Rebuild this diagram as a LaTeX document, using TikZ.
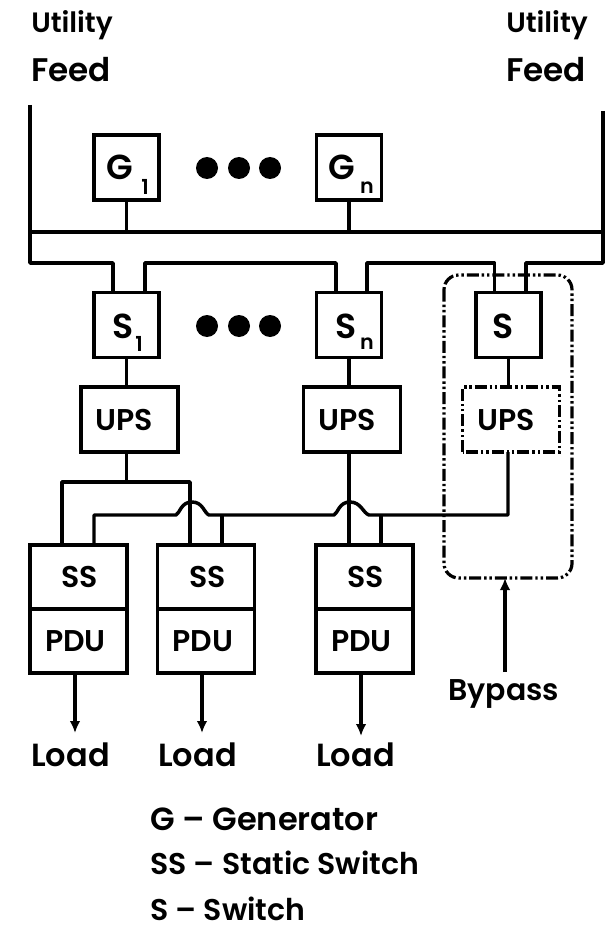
\documentclass[tikz,border=0pt]{standalone}
\usepackage{fontspec}
\setmainfont{Poppins}[UprightFont=* SemiBold,BoldFont=* Bold]
\usetikzlibrary{calc,arrows.meta}
\tikzset{
  wire/.style={line width=2.6pt,line join=round},
  box/.style={draw,line width=2.6pt,inner sep=0,outer sep=0,font=\fontsize{22.5}{26}\selectfont},
  sqbox/.style={box,minimum width=48.75pt,minimum height=48.5pt},
  upsbox/.style={box,minimum width=72.5pt,minimum height=48.5pt},
  sspdu/.style={box,minimum width=73pt,minimum height=48pt},
  outerdash/.style={line width=2.4pt,rounded corners=11pt,dash pattern=on 9pt off 2.2pt on 1.8pt off 2.2pt on 1.8pt off 2.2pt},
  innerdash/.style={line width=2.6pt,dash pattern=on 9pt off 2.2pt on 1.8pt off 2.2pt on 1.8pt off 2.2pt},
  dotn/.style={circle,fill=black,inner sep=0,minimum size=16.5pt},
  lbl/.style={anchor=west,inner sep=0,font=\fontsize{22.5}{26}\selectfont},
  sub/.style={inner sep=0,font=\fontsize{15.5}{18}\selectfont},
  letter/.style={box,draw=none,minimum size=0pt,font=\fontsize{26}{28}\selectfont},
  arroww/.style={wire,-{Latex[length=9pt,width=8pt]}}
}
\newcommand{\fs}[1]{\fontsize{#1}{#1}\selectfont}
\begin{document}
\begin{tikzpicture}[x=0.75pt,y=-0.75pt]
\useasboundingbox (0,0) rectangle (608,927);
% text labels
\node[lbl] (ul1) at (31,25) {\fs{21}Utility};
\node[lbl] (ul2) at (31,70) {\fs{24.5}Feed};
\node[lbl] (ur1) at (506,25) {\fs{21}Utility};
\node[lbl] (ur2) at (506,70) {\fs{24.5}Feed};
% generators
\node[sqbox] (G1) at (126.5,167.5) {};
\node[sqbox] (Gn) at (349,167.5) {};
\node[letter] (G1t) at (120,167) {G};
\node[letter] (Gnt) at (342,167) {G};
\node[sub] (G1s) at (145,187) {1};
\node[sub] (Gns) at (367,188) {n};
\node[dotn] (d1) at (207,168) {};
\node[dotn] (d2) at (239,168) {};
\node[dotn] (d3) at (270,168) {};
% bus coordinates
\coordinate (LT) at (30,105);
\coordinate (RT) at (603,111);
\coordinate (BL) at (30,232);
\coordinate (BR) at (603,232);
\coordinate (FL) at (30,263);
\coordinate (FR) at (603,263);
% switches
\node[sqbox] (S1) at (126.5,325) {};
\node[sqbox] (Sn) at (349,325) {};
\node[sqbox] (S) at (508.5,325) {};
\node[letter] (S1t) at (123,326) {S};
\node[letter] (Snt) at (346,326) {S};
\node[letter] (St) at (503,326) {S};
\node[sub] (S1s) at (139,344) {1};
\node[sub] (Sns) at (367,344) {n};
\node[dotn] (d4) at (207,326) {};
\node[dotn] (d5) at (239,326) {};
\node[dotn] (d6) at (270,326) {};
% UPS
\node[upsbox] (U1) at (129.5,419.5) {UPS\hspace*{7.5pt}};
\node[upsbox] (U2) at (352,419.5) {UPS\hspace*{7.5pt}};
\node[upsbox,draw=none] (U3) at (511,419.5) {UPS\hspace*{7.5pt}};
% SS/PDU
\node[sspdu] (SS1) at (78.5,577) {\hspace*{2pt}SS};
\node[sspdu] (P1) at (78.5,641) {PDU\hspace*{4.5pt}};
\node[sspdu] (SS2) at (206,577) {\hspace*{2pt}SS};
\node[sspdu] (P2) at (206,641) {PDU\hspace*{4.5pt}};
\node[sspdu] (SS3) at (364.5,577) {\hspace*{2pt}SS};
\node[sspdu] (P3) at (364.5,641) {PDU\hspace*{4.5pt}};
% bus wires
\draw[wire] (LT) -- (BL) -- (FL) -- (113,263) -- (113,293);
\draw[wire] (BL) -- (BR);
\draw[wire] (RT) -- (BR) -- (FR) -- (526,263) -- (526,293);
\draw[wire] (G1) -- (G1 |- BL);
\draw[wire] (Gn) -- (Gn |- BL);
\draw[wire] (145,293) -- (145,263) -- (336,263) -- (336,293);
\draw[wire] (367,293) -- (367,263) -- (494.5,263) -- (494.5,293);
% stems
\draw[wire] (S1) -- (S1 |- U1.north);
\draw[wire] (Sn) -- (Sn |- U2.north);
\draw[wire] (S) -- (S |- U3.north);
% lower wiring
\coordinate (j1) at (126.5,482);
\draw[wire] (j1 |- U1.south) -- (j1);
\draw[wire] (62,545) -- (62,482) -- (190,482) -- (190,545);
\draw[wire] (94,545) -- (94,515) -- (176,515) .. controls (180,513) and (181,502) .. (192,502) .. controls (203,502) and (204,513) .. (209,515) -- (334,515) .. controls (338,513) and (339,502) .. (350,502) .. controls (361,502) and (363,513) .. (369,515) -- (508,515) -- (508,452);
\draw[wire] (222,515) -- (222,545);
\draw[wire] (381,515) -- (381,545);
\draw[wire] (349,452) -- (349,545);
% dashed
\draw[innerdash] (U3.south west) rectangle (U3.north east);
\draw[outerdash] (444,275) rectangle (572,578);
% arrows
\coordinate (e1) at (75,733);
\coordinate (e2) at (202,733);
\coordinate (e3) at (361,736);
\draw[arroww] (e1 |- P1.south) -- (e1);
\draw[arroww] (e2 |- P2.south) -- (e2);
\draw[arroww] (e3 |- P3.south) -- (e3);
\coordinate (bt) at (505,578);
\draw[arroww] (505,672) -- (bt);
\node[lbl] (by) at (448,694) {Bypass};
\node[lbl] (l1) at (31,755) {\fs{24}Load};
\node[lbl] (l2) at (158,755) {\fs{24}Load};
\node[lbl] (l3) at (316,755) {\fs{24}Load};
\node[lbl] (k1) at (150,819) {\fs{24}G -- Generator};
\node[lbl] (k2) at (150,863) {SS -- Static Switch};
\node[lbl] (k3) at (150,909) {S -- Switch};
\end{tikzpicture}
\end{document}
